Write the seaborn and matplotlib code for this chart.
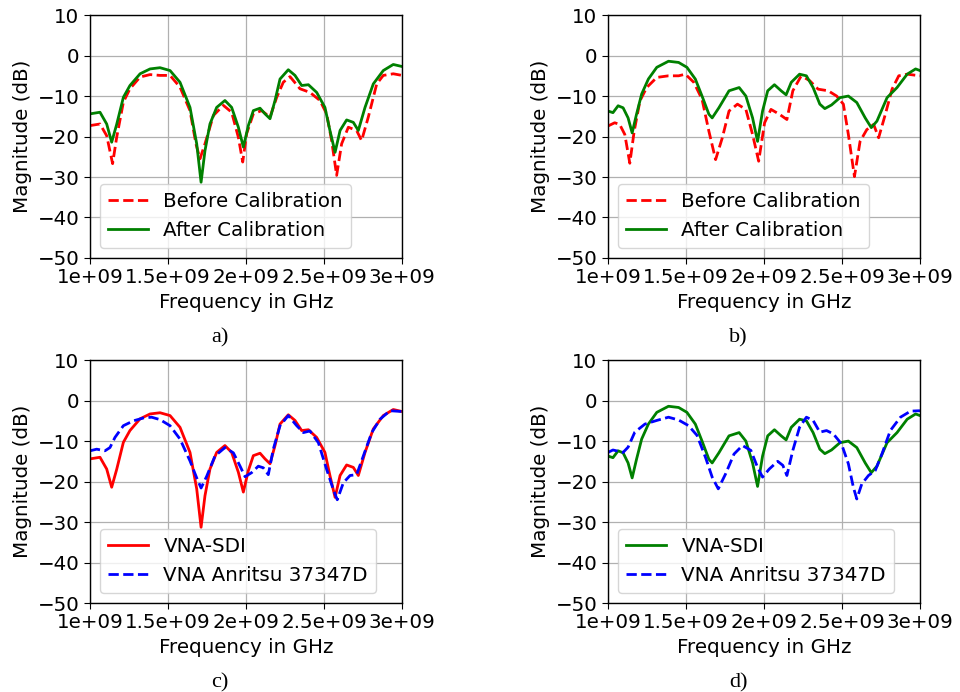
import numpy as np
import pandas as pd
import matplotlib
matplotlib.use("Agg")
import matplotlib.pyplot as plt
from matplotlib.ticker import FuncFormatter
import seaborn as sns

# ---------------- data (frequency in GHz, magnitude in dB) ----------------
# DUT 1 : VNA-SDI before / after calibration, Anritsu reference
f_a_after = [1.000, 1.064, 1.107, 1.139, 1.171, 1.214, 1.256, 1.321, 1.385, 1.449, 1.513,
             1.577, 1.641, 1.684, 1.712, 1.737, 1.769, 1.812, 1.865, 1.908, 1.951, 1.983,
             2.015, 2.047, 2.090, 2.122, 2.154, 2.186, 2.218, 2.271, 2.314, 2.357, 2.400,
             2.453, 2.506, 2.538, 2.571, 2.603, 2.645, 2.688, 2.720, 2.763, 2.816, 2.880,
             2.944, 3.000]
m_a_after = [-14.4, -14.0, -16.9, -21.4, -17.0, -10.3, -7.4, -4.5, -3.3, -3.0, -3.7,
             -6.6, -12.8, -21.8, -31.3, -23.5, -16.9, -12.8, -11.1, -12.8, -17.7, -22.6,
             -17.3, -13.6, -13.0, -14.4, -15.6, -11.1, -5.8, -3.5, -4.9, -7.4, -7.2,
             -9.1, -12.8, -18.5, -23.9, -18.5, -15.9, -16.5, -18.5, -12.8, -7.0, -3.7,
             -2.2, -2.7]

f_a_before = [1.000, 1.064, 1.107, 1.145, 1.171, 1.214, 1.256, 1.321, 1.385, 1.449, 1.513,
              1.577, 1.641, 1.679, 1.705, 1.737, 1.791, 1.855, 1.908, 1.951, 1.979, 2.004,
              2.047, 2.100, 2.154, 2.197, 2.239, 2.282, 2.346, 2.410, 2.474, 2.517, 2.549,
              2.581, 2.613, 2.656, 2.709, 2.741, 2.784, 2.838, 2.880, 2.944, 3.000]
m_a_before = [-17.3, -16.9, -19.8, -26.7, -20.2, -11.5, -8.2, -5.3, -4.7, -4.9, -4.9,
              -7.8, -13.6, -21.8, -25.5, -21.8, -14.8, -12.3, -14.0, -20.2, -26.3, -19.3,
              -14.4, -13.6, -15.2, -10.3, -6.6, -5.2, -8.2, -9.1, -11.1, -14.4, -21.0,
              -29.6, -21.8, -17.7, -18.5, -21.0, -15.2, -7.0, -4.9, -4.5, -4.9]

f_a_anritsu = [1.000, 1.043, 1.096, 1.128, 1.160, 1.214, 1.278, 1.342, 1.395, 1.449, 1.513,
               1.577, 1.641, 1.684, 1.712, 1.748, 1.801, 1.865, 1.919, 1.962, 1.994, 2.036,
               2.079, 2.111, 2.143, 2.175, 2.218, 2.271, 2.325, 2.368, 2.410, 2.464, 2.517,
               2.560, 2.585, 2.624, 2.667, 2.709, 2.752, 2.806, 2.859, 2.923, 3.000]
m_a_anritsu = [-12.4, -12.0, -12.4, -11.6, -9.1, -6.2, -5.0, -4.3, -4.1, -4.7, -6.2,
               -9.5, -14.9, -19.1, -21.6, -18.7, -13.7, -11.6, -12.9, -16.2, -18.8, -17.8,
               -16.2, -16.6, -18.3, -12.0, -6.2, -3.7, -6.2, -7.9, -7.5, -10.4, -17.0,
               -22.0, -24.5, -20.3, -18.5, -18.3, -13.7, -7.9, -4.6, -2.5, -2.7]

# DUT 2
f_b_after = [1.000, 1.032, 1.065, 1.097, 1.129, 1.155, 1.183, 1.216, 1.259, 1.313, 1.388,
             1.453, 1.506, 1.560, 1.603, 1.647, 1.668, 1.711, 1.776, 1.841, 1.884, 1.927,
             1.959, 1.991, 2.024, 2.067, 2.110, 2.142, 2.175, 2.228, 2.272, 2.315, 2.358,
             2.390, 2.433, 2.487, 2.541, 2.595, 2.649, 2.688, 2.724, 2.789, 2.853, 2.918,
             2.972, 3.000]
m_b_after = [-13.7, -14.1, -12.4, -12.9, -15.4, -19.1, -14.5, -9.5, -5.8, -2.9, -1.4,
             -1.7, -2.9, -5.8, -10.0, -14.5, -15.4, -12.9, -8.7, -7.9, -10.0, -15.4,
             -21.2, -13.7, -8.7, -7.2, -8.7, -9.7, -6.6, -4.6, -5.0, -7.9, -12.0,
             -13.1, -12.2, -10.4, -10.0, -11.6, -15.4, -17.8, -16.2, -10.4, -7.9, -4.6,
             -3.3, -3.7]

f_b_before = [1.000, 1.043, 1.075, 1.108, 1.140, 1.168, 1.205, 1.248, 1.313, 1.388, 1.453,
              1.496, 1.550, 1.603, 1.647, 1.690, 1.733, 1.776, 1.830, 1.884, 1.927, 1.966,
              2.004, 2.045, 2.099, 2.147, 2.185, 2.239, 2.293, 2.347, 2.412, 2.466, 2.509,
              2.541, 2.580, 2.616, 2.659, 2.703, 2.735, 2.778, 2.821, 2.864, 2.918, 3.000]
m_b_before = [-17.4, -16.6, -17.0, -19.5, -26.6, -18.7, -11.2, -7.9, -5.4, -5.0, -5.0,
              -4.6, -6.6, -10.8, -18.7, -25.7, -20.3, -13.7, -12.0, -13.3, -19.5, -26.1,
              -16.6, -13.3, -14.5, -15.8, -8.7, -5.0, -6.2, -8.3, -8.7, -10.0, -12.0,
              -19.5, -29.9, -21.2, -18.3, -17.0, -20.3, -14.5, -8.3, -5.0, -4.6, -5.0]

f_b_anritsu = [1.000, 1.032, 1.065, 1.097, 1.129, 1.172, 1.237, 1.313, 1.388, 1.453, 1.517,
               1.571, 1.625, 1.668, 1.707, 1.754, 1.808, 1.862, 1.916, 1.959, 1.991, 2.034,
               2.088, 2.121, 2.147, 2.185, 2.228, 2.272, 2.315, 2.358, 2.401, 2.444, 2.497,
               2.541, 2.573, 2.595, 2.627, 2.670, 2.713, 2.756, 2.810, 2.875, 2.940, 3.000]
m_b_anritsu = [-12.8, -12.2, -12.5, -12.8, -11.5, -7.8, -5.8, -4.9, -4.1, -4.8, -6.2,
               -8.6, -14.0, -18.9, -21.8, -18.1, -13.2, -11.1, -12.3, -16.5, -18.9, -16.9,
               -15.0, -16.0, -18.5, -12.3, -6.6, -4.1, -4.9, -7.8, -7.4, -8.2, -10.7,
               -15.6, -21.4, -24.3, -20.6, -18.5, -17.3, -13.2, -7.4, -4.1, -2.6, -2.5]

x_ticks = [1e9, 1.5e9, 2e9, 2.5e9, 3e9]
y_ticks = [-50, -40, -30, -20, -10, 0, 10]
panel_tags = ["a)", "b)", "c)", "d)"]

# ---------------- figure ----------------
plt.rcParams["font.family"] = ["DejaVu Sans"]
FS = 14.3
fig = plt.figure(figsize=(9.6, 6.92), dpi=100)

W = 0.325
H = 0.351
positions = [
    (0.09375, 0.6272),
    (0.6333, 0.6272),
    (0.09375, 0.1286),
    (0.6333, 0.1286),
]

panels = [
    [(f_a_before, m_a_before, "Before Calibration", "red", "--"),
     (f_a_after, m_a_after, "After Calibration", "green", "-")],
    [(f_b_before, m_b_before, "Before Calibration", "red", "--"),
     (f_b_after, m_b_after, "After Calibration", "green", "-")],
    [(f_a_after, m_a_after, "VNA-SDI", "red", "-"),
     (f_a_anritsu, m_a_anritsu, "VNA Anritsu 37347D", "blue", "--")],
    [(f_b_after, m_b_after, "VNA-SDI", "green", "-"),
     (f_b_anritsu, m_b_anritsu, "VNA Anritsu 37347D", "blue", "--")],
]

tag_xy = [(220, 338), (738, 338), (220, 683), (738, 683)]

for (left, bottom), series, tag, (tx, ty) in zip(positions, panels, panel_tags, tag_xy):
    ax = fig.add_axes([left, bottom, W, H])
    for f, m, lab, col, ls in series:
        df = pd.DataFrame({"Frequency": np.array(f) * 1e9, "Magnitude": m})
        sns.lineplot(data=df, x="Frequency", y="Magnitude", ax=ax, color=col,
                     linestyle=ls, linewidth=2, label=lab, estimator=None, sort=False)
    ax.set_xlim(1e9, 3e9)
    ax.set_ylim(-50, 10)
    ax.set_xticks(x_ticks)
    ax.set_yticks(y_ticks)
    ax.xaxis.set_major_formatter(FuncFormatter(lambda v, p: "%g" % v))
    ax.grid(True, color="#b0b0b0", linewidth=0.9)
    ax.set_axisbelow(True)
    ax.tick_params(labelsize=FS, direction="out", length=4)
    ax.set_xlabel("Frequency in GHz", fontsize=FS, labelpad=4)
    ax.set_ylabel("Magnitude (dB)", fontsize=FS, labelpad=4)
    for s in ax.spines.values():
        s.set_color("black")
        s.set_linewidth(1.0)
    ax.legend(loc="lower left", fontsize=FS, frameon=True, framealpha=0.8,
              handlelength=2.0)
    fig.text(tx / 960, 1 - ty / 692, tag, ha="center", va="center",
             fontsize=16, family=["Liberation Serif", "DejaVu Serif"])

fig.savefig("out.png", dpi=100)
